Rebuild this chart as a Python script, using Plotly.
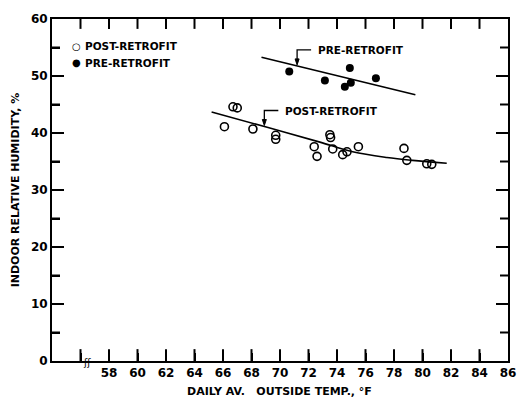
import numpy as np
import plotly.graph_objects as go

# ---- data ----
post_temp = [66.1, 66.7, 67.0, 68.1, 69.7, 69.7, 72.4, 72.6, 73.5, 73.55, 73.7, 74.4, 74.7, 75.5, 78.7, 78.9, 80.3, 80.65]
post_rh   = [41.1, 44.6, 44.4, 40.7, 39.6, 38.9, 37.6, 35.9, 39.7, 39.2, 37.2, 36.2, 36.7, 37.6, 37.3, 35.2, 34.6, 34.5]
pre_temp = [70.65, 73.15, 74.55, 74.9, 74.97, 76.73]
pre_rh   = [50.8, 49.2, 48.1, 51.4, 48.8, 49.6]

post_fit_temp = [65.2, 69.1, 72.8, 75.1, 77.5, 79.3, 81.7]
post_fit_rh   = [43.7, 41.0, 38.4, 36.7, 35.7, 35.2, 34.7]
pre_fit_temp = [68.7, 79.5]
pre_fit_rh   = [53.3, 46.7]

x_range = [54, 86]
y_range = [0, 60]
x_tickvals = list(range(56, 87, 2))
x_ticktext = ["" if v == 56 else str(v) for v in x_tickvals]
y_tickvals = list(range(0, 61, 5))
y_ticktext = [str(v) if v % 10 == 0 else "" for v in y_tickvals]

label_names = ["PRE-RETROFIT", "POST-RETROFIT"]
label_anchor_x = [71.2, 68.9]
legend_names = ["POST-RETROFIT", "PRE-RETROFIT"]
legend_symbols = ["○", "●"]

FONT = "DejaVu Sans"
W, H = 530, 399
M = dict(l=52, r=22, t=15, b=38)
px_x = (W - M["l"] - M["r"]) / (x_range[1] - x_range[0])
px_y = (H - M["t"] - M["b"]) / (y_range[1] - y_range[0])

fig = go.Figure()

# inward tick marks on all four sides, built from the tick values
tx, ty = [], []
for v in x_tickvals[:-1]:
    tx += [v, v, None, v, v, None]
    ty += [y_range[0], y_range[0] + 12 / px_y, None, y_range[1], y_range[1] - 10 / px_y, None]
for v in y_tickvals[1:-1]:
    ln = (12 if v % 10 == 0 else 8) / px_x
    tx += [x_range[0], x_range[0] + ln, None, x_range[1], x_range[1] - ln, None]
    ty += [v, v, None, v, v, None]
fig.add_trace(go.Scatter(x=tx, y=ty, mode="lines", line=dict(color="black", width=2),
                         showlegend=False, hoverinfo="skip", connectgaps=False))

fig.add_trace(go.Scatter(x=post_fit_temp, y=post_fit_rh, mode="lines",
                         line=dict(color="black", width=1.6, shape="spline", smoothing=1.0),
                         showlegend=False, hoverinfo="skip"))
fig.add_trace(go.Scatter(x=pre_fit_temp, y=pre_fit_rh, mode="lines",
                         line=dict(color="black", width=1.6),
                         showlegend=False, hoverinfo="skip"))
fig.add_trace(go.Scatter(x=post_temp, y=post_rh, mode="markers", name="POST-RETROFIT",
                         showlegend=False,
                         marker=dict(symbol="circle-open", size=8, color="black",
                                     line=dict(width=1.6, color="black"))))
fig.add_trace(go.Scatter(x=pre_temp, y=pre_rh, mode="markers", name="PRE-RETROFIT",
                         showlegend=False,
                         marker=dict(symbol="circle", size=8, color="black")))

# legend (drawn as text)
for i, (sym, name) in enumerate(zip(legend_symbols, legend_names)):
    yy = 1 - (27.5 + 17 * i) / 346
    fig.add_annotation(x=0, y=yy, xref="paper", yref="paper", text=sym, showarrow=False,
                       xanchor="center", yanchor="middle", xshift=24,
                       font=dict(family=FONT, size=10, color="black"))
    fig.add_annotation(x=0, y=yy, xref="paper", yref="paper", text=name, showarrow=False,
                       xanchor="left", yanchor="middle", xshift=31,
                       font=dict(family=FONT, size=10.5, color="black", weight="bold"))

# leader annotations
fits = {"PRE-RETROFIT": (pre_fit_temp, pre_fit_rh), "POST-RETROFIT": (post_fit_temp, post_fit_rh)}
for name, ax in zip(label_names, label_anchor_x):
    fx, fy = fits[name]
    ay = float(np.interp(ax, fx, fy))
    fig.add_shape(type="path", xref="x", yref="y", xsizemode="pixel", ysizemode="pixel",
                  xanchor=ax, yanchor=ay, path="M 0 3 L 0 16 L 14 16",
                  line=dict(color="black", width=1.3))
    fig.add_shape(type="path", xref="x", yref="y", xsizemode="pixel", ysizemode="pixel",
                  xanchor=ax, yanchor=ay, path="M -2 7 L 2 7 L 0 1 Z",
                  fillcolor="black", line=dict(color="black", width=1))
    fig.add_annotation(x=ax, y=ay, xref="x", yref="y", text=name, showarrow=False,
                       xanchor="left", yanchor="middle", xshift=19, yshift=16,
                       font=dict(family=FONT, size=10.5, color="black", weight="bold"))

# axis break mark
fig.add_annotation(x=56.45, y=0, xref="x", yref="y", text="ʃʃ", showarrow=False,
                   yanchor="middle", font=dict(family=FONT, size=10, color="black"), yshift=-1)

# x axis title
fig.add_annotation(x=0.5, y=0, xref="paper", yref="paper", text="DAILY AV.   OUTSIDE TEMP., °F",
                   showarrow=False, xanchor="center", yanchor="middle", xshift=-1, yshift=-30,
                   font=dict(family=FONT, size=11, color="black", weight="bold"))

fig.update_layout(
    width=W, height=H,
    margin=M,
    paper_bgcolor="white", plot_bgcolor="white",
    font=dict(family=FONT, size=12, color="black"),
    showlegend=False,
    xaxis=dict(range=x_range, tickmode="array", tickvals=x_tickvals, ticktext=x_ticktext,
               ticks="inside", ticklen=8, tickwidth=1.5, tickcolor="black",
               showline=True, linewidth=2, linecolor="black", mirror=True,
               showgrid=False, zeroline=False,
               tickfont=dict(family=FONT, size=12, weight="bold")),
    yaxis=dict(range=y_range, tickmode="array", tickvals=y_tickvals, ticktext=y_ticktext,
               ticks="inside", ticklen=8, tickwidth=1.5, tickcolor="black",
               showline=True, linewidth=2, linecolor="black", mirror=True,
               showgrid=False, zeroline=False,
               tickfont=dict(family=FONT, size=12, weight="bold"),
               title=dict(text="INDOOR RELATIVE HUMIDITY, %", standoff=9,
                          font=dict(family=FONT, size=11, weight="bold"))),
)

fig.write_html("out.html")
